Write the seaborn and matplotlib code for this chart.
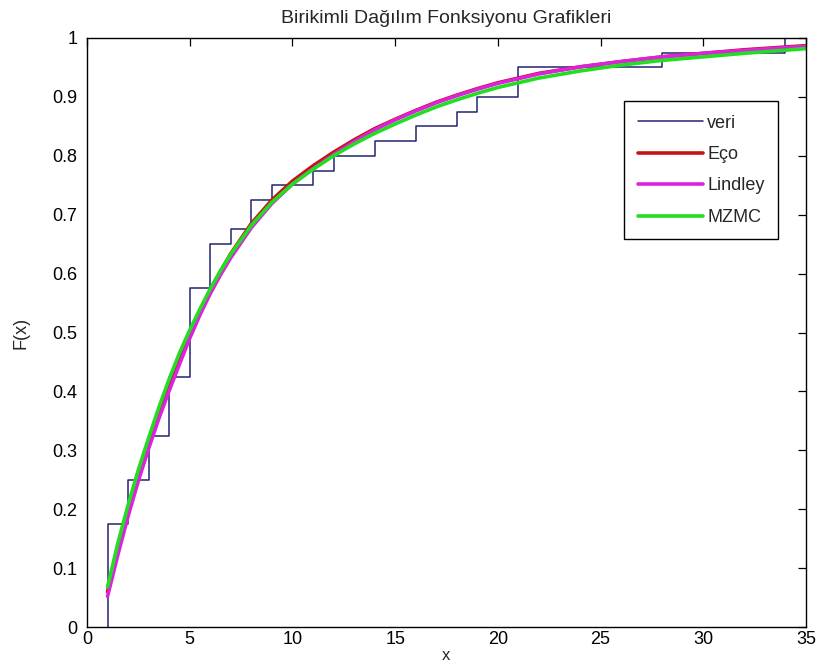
import numpy as np
import pandas as pd
import matplotlib
matplotlib.use("Agg")
import matplotlib.pyplot as plt
import seaborn as sns

# ---- data ----
# observed values and how many times each occurs (empirical CDF "veri")
veri_values = [1, 2, 3, 4, 5, 6, 7, 8, 9, 11, 12, 14, 16, 18, 19, 21, 28, 34]
veri_counts = [7, 3, 3, 4, 6, 3, 1, 2, 1, 1, 1, 1, 1, 1, 1, 2, 1, 1]

# fitted CDF curves
x_fit = [1, 1.5, 2, 2.5, 3, 3.5, 4, 4.5, 5, 5.5, 6, 6.5, 7, 8, 9, 10, 11,
         12, 13, 14, 15, 16, 17, 18, 19, 20, 22, 24, 26, 28, 30, 32, 35]
eco = [0.060, 0.133, 0.199, 0.259, 0.314, 0.366, 0.413, 0.458, 0.499, 0.537,
       0.572, 0.604, 0.634, 0.685, 0.725, 0.757, 0.783,
       0.806, 0.827, 0.846, 0.862, 0.877, 0.891, 0.903, 0.914, 0.924,
       0.940, 0.951, 0.960, 0.968, 0.974, 0.980, 0.987]
lindley = [0.052, 0.122, 0.188, 0.248, 0.303, 0.354, 0.401, 0.446, 0.490, 0.530,
           0.566, 0.598, 0.627, 0.678, 0.719, 0.752, 0.778,
           0.802, 0.824, 0.844, 0.861, 0.876, 0.890, 0.902, 0.913, 0.923,
           0.939, 0.951, 0.960, 0.968, 0.974, 0.979, 0.986]
mzmc = [0.068, 0.142, 0.207, 0.267, 0.321, 0.373, 0.421, 0.465, 0.504, 0.540,
        0.574, 0.605, 0.633, 0.682, 0.721, 0.752, 0.777,
        0.800, 0.820, 0.838, 0.854, 0.869, 0.883, 0.895, 0.906, 0.916,
        0.932, 0.944, 0.954, 0.962, 0.968, 0.974, 0.982]

x_ticks = [0, 5, 10, 15, 20, 25, 30, 35]
y_ticks = [0, 0.1, 0.2, 0.3, 0.4, 0.5, 0.6, 0.7, 0.8, 0.9, 1]
y_tick_labels = ["0", "0.1", "0.2", "0.3", "0.4", "0.5", "0.6", "0.7", "0.8", "0.9", "1"]

title = "Birikimli Dağılım Fonksiyonu Grafikleri"

# ---- style ----
sns.set_theme(style="white")
plt.rcParams["font.family"] = ["Liberation Sans", "DejaVu Sans"]

W, H = 818, 664
fig = plt.figure(figsize=(W / 100, H / 100), dpi=100)
fig.patch.set_facecolor("white")
ax = fig.add_axes([87 / W, 1 - 627 / H, 719 / W, 589 / H])
ax.set_facecolor("white")

sns.ecdfplot(x=veri_values, weights=veri_counts, color="#232370", lw=1.1,
             label="veri", ax=ax)
sns.lineplot(x=x_fit, y=eco, color="#c81212", lw=2.6, label="Eço", ax=ax)
sns.lineplot(x=x_fit, y=lindley, color="#dd22dd", lw=2.6, label="Lindley", ax=ax)
sns.lineplot(x=x_fit, y=mzmc, color="#22dd22", lw=2.6, label="MZMC", ax=ax)

ax.set_xlim(0, 35)
ax.set_ylim(0, 1)
ax.set_xticks(x_ticks)
ax.set_xticklabels([str(t) for t in x_ticks])
ax.set_yticks(y_ticks)
ax.set_yticklabels(y_tick_labels)
ax.tick_params(direction="in", top=True, right=True, length=6, width=0.9,
               colors="black", labelsize=13)
ax.tick_params(axis="y", pad=7)
ax.tick_params(axis="x", pad=3)
for s in ax.spines.values():
    s.set_color("black")
    s.set_linewidth(1.0)

ax.set_xlabel("x", fontsize=12, labelpad=0)
ax.set_ylabel("F(x)", fontsize=13, labelpad=16)
ax.set_title(title, fontsize=14, pad=11)

leg = ax.legend(loc="upper right", bbox_to_anchor=(778 / W, 1 - 101 / H),
                bbox_transform=fig.transFigure, borderaxespad=0,
                fontsize=13, handlelength=3.6, labelspacing=0.8,
                fancybox=False, framealpha=1, edgecolor="black",
                borderpad=0.75, handletextpad=0.25)
leg.get_frame().set_linewidth(1.0)

fig.savefig("out.png", dpi=100, facecolor="white")
